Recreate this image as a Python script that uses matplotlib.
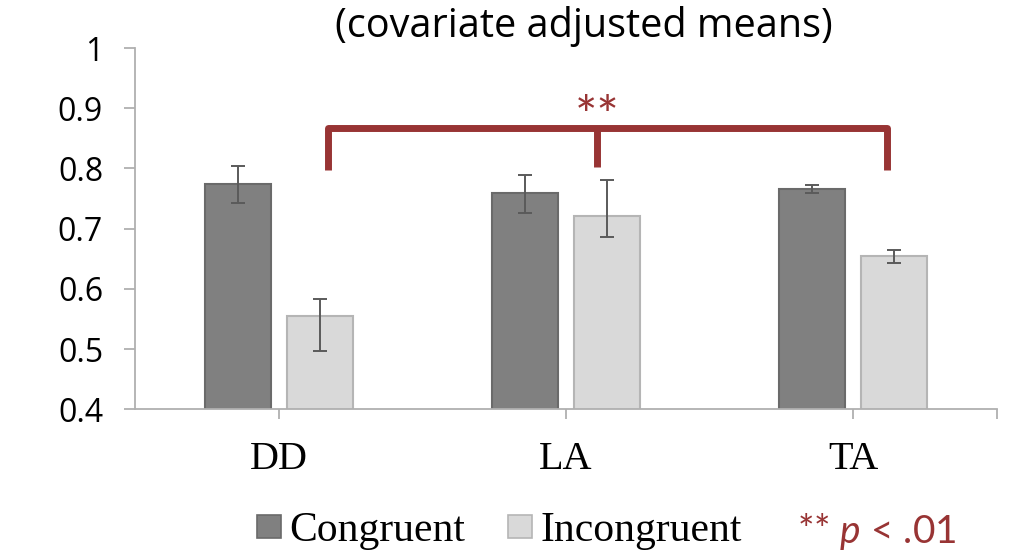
from matplotlib import pyplot as plt
from matplotlib.patches import Patch
import numpy as np

# данные
categories = ['DD', 'LA', 'TA']
congruent = [0.774, 0.759, 0.766]
incongruent = [0.555, 0.721, 0.655]
cong_err_lo = [0.032, 0.033, 0.007]
cong_err_hi = [0.030, 0.031, 0.007]
incong_err_lo = [0.058, 0.035, 0.012]
incong_err_hi = [0.028, 0.060, 0.009]

# скобка значимости
br_left, br_mid, br_right = 0.1725, 1.109, 2.117
br_top, br_bottom, br_mid_bottom = 0.867, 0.797, 0.802

plt.rcParams['mathtext.fontset'] = 'custom'
plt.rcParams['mathtext.it'] = 'Lato:italic'
plt.rcParams['mathtext.rm'] = 'Lato'

red = '#983434'
gray_axis = '#b0b0b0'

fig = plt.figure(figsize=(10.19, 5.55), dpi=100)
ax = fig.add_axes([0.1325, 0.2622, 0.8459, 0.6513])

x = np.arange(len(categories))
w = 0.23
off = 0.143
ax.bar(x - off, congruent, w, color='#808080', edgecolor='#6a6a6a', linewidth=1.5, zorder=2)
ax.bar(x + off, incongruent, w, color='#d9d9d9', edgecolor='#b5b5b5', linewidth=1.5, zorder=2)
ax.errorbar(x - off, congruent, yerr=[cong_err_lo, cong_err_hi], fmt='none',
            ecolor='#5a5a5a', elinewidth=1.4, capsize=5, capthick=1.4, zorder=3)
ax.errorbar(x + off, incongruent, yerr=[incong_err_lo, incong_err_hi], fmt='none',
            ecolor='#5a5a5a', elinewidth=1.4, capsize=5, capthick=1.4, zorder=3)

# скобка
ax.plot([br_left, br_left, br_right, br_right], [br_bottom, br_top, br_top, br_bottom],
        color=red, linewidth=5, solid_joinstyle='round', solid_capstyle='butt', zorder=4)
ax.plot([br_mid, br_mid], [br_top, br_mid_bottom], color=red, linewidth=5,
        solid_capstyle='butt', zorder=4)
ax.text(br_mid, 0.882, '**', color=red, fontsize=38, family='Lato', ha='center', va='center')

ax.set_xlim(-0.5, 2.5)
ax.set_ylim(0.4, 1.0)
ax.set_yticks(np.arange(0.4, 1.01, 0.1))
ax.set_yticklabels(['0.4', '0.5', '0.6', '0.7', '0.8', '0.9', '1'])
ax.set_xticks([0, 1, 2, 2.5])
ax.set_xticklabels(categories + [''])

for s in ['top', 'right']:
    ax.spines[s].set_visible(False)
for s in ['left', 'bottom']:
    ax.spines[s].set_color(gray_axis)
    ax.spines[s].set_linewidth(1.3)

ax.tick_params(axis='y', length=8, width=1.3, color=gray_axis, pad=15, labelsize=23)
ax.tick_params(axis='x', length=7, width=1.3, color=gray_axis, pad=16, labelsize=29)
for t in ax.get_yticklabels():
    t.set_family('Open Sans')
for t in ax.get_xticklabels():
    t.set_family('Liberation Serif')

fig.text(584 / 1019, 1 - 37 / 555, '(covariate adjusted means)', family='Open Sans',
         fontsize=28.5, ha='center', va='baseline')

handles = [Patch(facecolor='#808080', edgecolor='#6a6a6a', linewidth=1.2, label='Congruent'),
           Patch(facecolor='#d9d9d9', edgecolor='#b5b5b5', linewidth=1.2, label='Incongruent')]
fig.legend(handles=handles, loc='center left', bbox_to_anchor=(257 / 1019, 1 - 531 / 555),
           ncol=2, frameon=False, borderpad=0, borderaxespad=0,
           handlelength=0.58, handleheight=0.46, handletextpad=0.2, columnspacing=1.03,
           prop={'family': 'Liberation Serif', 'size': 30})
fig.text(797 / 1019, 1 - 531 / 555, r'** $p$ < .01', color=red, family='Lato',
         fontsize=28, ha='left', va='center')

fig.savefig('out.png', dpi=100)
